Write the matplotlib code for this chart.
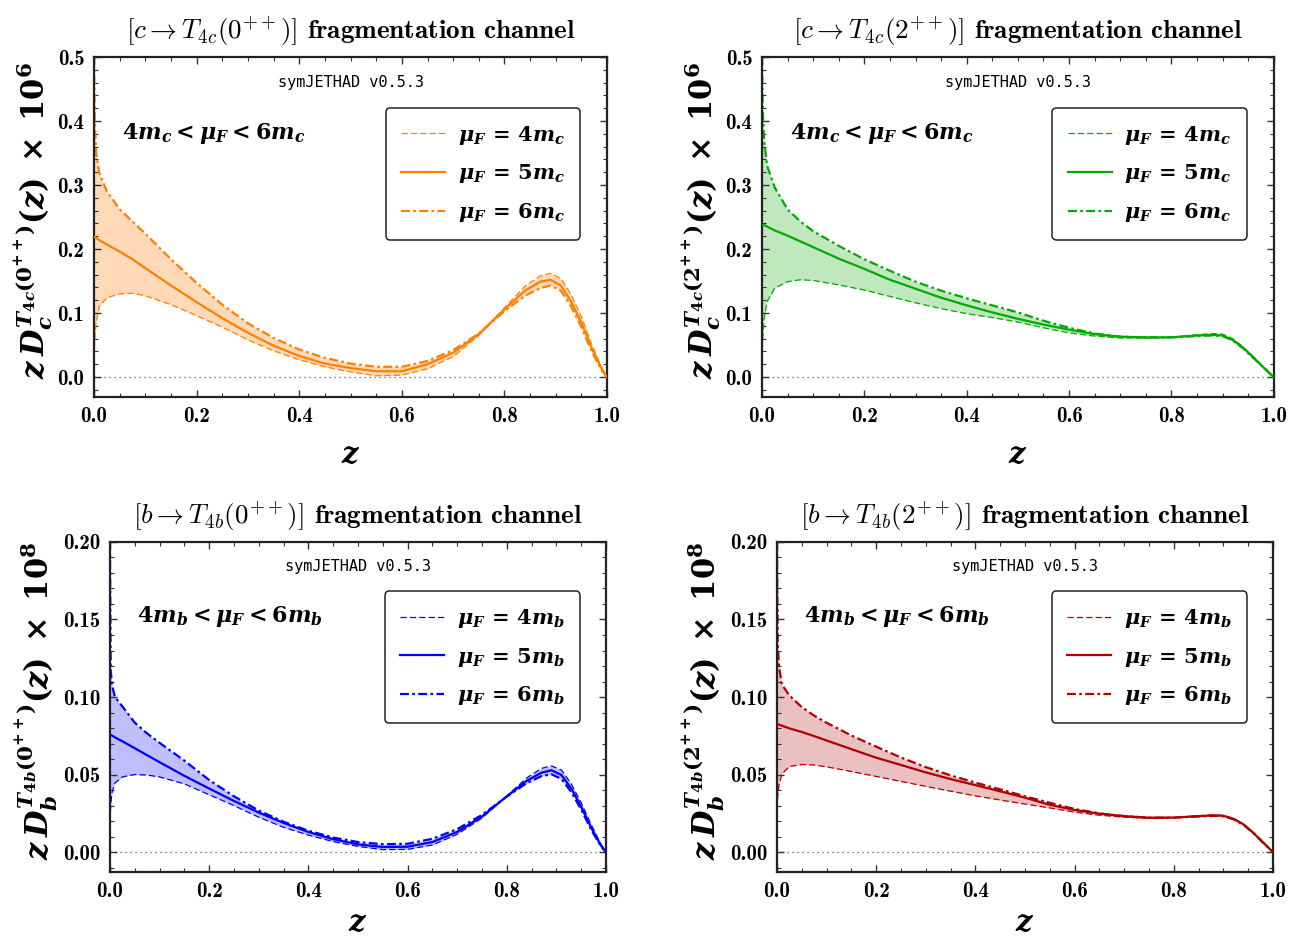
import matplotlib
matplotlib.use("Agg")
import matplotlib.pyplot as plt
from matplotlib.ticker import MultipleLocator, FormatStrFormatter

plt.rcParams["mathtext.fontset"] = "cm"
plt.rcParams["mathtext.it"] = "DejaVu Serif:italic:bold"
plt.rcParams["mathtext.rm"] = "DejaVu Serif:bold"
plt.rcParams["mathtext.bf"] = "DejaVu Serif:bold"
plt.rcParams["axes.formatter.use_mathtext"] = False

# ---- data (z grids shared by the three scale curves) ----
z_peak = [0, 0.0015, 0.004, 0.01, 0.025, 0.05, 0.075, 0.1, 0.15, 0.2, 0.25, 0.3, 0.35, 0.4,
          0.45, 0.5, 0.55, 0.6, 0.65, 0.7, 0.75, 0.8, 0.84, 0.87, 0.89, 0.91, 0.93, 0.95,
          0.97, 0.99, 1.0]
z_flat = [0, 0.0015, 0.004, 0.01, 0.025, 0.05, 0.075, 0.1, 0.15, 0.2, 0.25, 0.3, 0.35, 0.4,
          0.45, 0.5, 0.55, 0.6, 0.65, 0.7, 0.75, 0.8, 0.85, 0.88, 0.9, 0.92, 0.94, 0.96,
          0.98, 1.0]

# c -> T4c(0++), x 1e6
c0_mu4 = [0.03, 0.06, 0.085, 0.11, 0.124, 0.130, 0.131, 0.127, 0.113, 0.096, 0.078, 0.058,
          0.041, 0.027, 0.016, 0.008, 0.002, 0.003, 0.013, 0.032, 0.065, 0.108, 0.142, 0.158,
          0.162, 0.154, 0.129, 0.094, 0.051, 0.014, 0.0]
c0_mu5 = [0.219, 0.2185, 0.2175, 0.214, 0.207, 0.196, 0.184, 0.170, 0.143, 0.117, 0.092,
          0.069, 0.049, 0.033, 0.021, 0.014, 0.009, 0.009, 0.020, 0.038, 0.067, 0.106, 0.135,
          0.149, 0.152, 0.143, 0.118, 0.085, 0.045, 0.012, 0.0]
c0_mu6 = [0.50, 0.40, 0.35, 0.32, 0.29, 0.262, 0.243, 0.224, 0.184, 0.147, 0.113, 0.084,
          0.061, 0.043, 0.030, 0.021, 0.016, 0.016, 0.025, 0.042, 0.068, 0.103, 0.127, 0.139,
          0.143, 0.135, 0.110, 0.078, 0.040, 0.010, 0.0]

# c -> T4c(2++), x 1e6
c2_mu4 = [0.03, 0.06, 0.09, 0.118, 0.139, 0.149, 0.152, 0.151, 0.144, 0.136, 0.126, 0.116,
          0.107, 0.099, 0.093, 0.086, 0.077, 0.069, 0.064, 0.061, 0.061, 0.062, 0.066, 0.068,
          0.067, 0.060, 0.047, 0.032, 0.016, 0.0]
c2_mu5 = [0.238, 0.2378, 0.2373, 0.235, 0.229, 0.221, 0.212, 0.203, 0.185, 0.169, 0.152,
          0.138, 0.124, 0.112, 0.101, 0.091, 0.082, 0.074, 0.067, 0.063, 0.062, 0.062, 0.065,
          0.066, 0.065, 0.058, 0.046, 0.031, 0.015, 0.0]
c2_mu6 = [0.50, 0.42, 0.37, 0.33, 0.296, 0.262, 0.243, 0.228, 0.205, 0.184, 0.166, 0.149,
          0.135, 0.123, 0.112, 0.101, 0.088, 0.077, 0.068, 0.063, 0.062, 0.062, 0.064, 0.065,
          0.064, 0.057, 0.045, 0.030, 0.015, 0.0]

# b -> T4b(0++), x 1e8
b0_mu4 = [0.02, 0.030, 0.038, 0.0445, 0.0485, 0.0500, 0.0497, 0.0485, 0.0440, 0.0370,
          0.0300, 0.0225, 0.0160, 0.0110, 0.0068, 0.0037, 0.0016, 0.0018, 0.0046, 0.0115,
          0.0220, 0.0362, 0.0478, 0.0540, 0.0556, 0.0530, 0.0440, 0.0318, 0.0178, 0.0050, 0.0]
b0_mu5 = [0.0757, 0.0755, 0.0752, 0.0740, 0.0715, 0.0670, 0.0625, 0.0580, 0.0492, 0.0410,
          0.0330, 0.0255, 0.0188, 0.0130, 0.0083, 0.0050, 0.0033, 0.0035, 0.0065, 0.0130,
          0.0230, 0.0360, 0.0460, 0.0512, 0.0528, 0.0498, 0.0410, 0.0292, 0.0158, 0.0042, 0.0]
b0_mu6 = [0.20, 0.118, 0.108, 0.100, 0.094, 0.0835, 0.0765, 0.0705, 0.059, 0.0465, 0.0360,
          0.0268, 0.0196, 0.0138, 0.0094, 0.0065, 0.0051, 0.0054, 0.0086, 0.0148, 0.0240,
          0.0358, 0.0445, 0.0490, 0.0502, 0.0472, 0.0388, 0.0274, 0.0145, 0.0036, 0.0]

# b -> T4b(2++), x 1e8
b2_mu4 = [0.028, 0.036, 0.043, 0.0505, 0.0552, 0.0565, 0.0562, 0.0550, 0.0520, 0.0488,
          0.0456, 0.0424, 0.0393, 0.0363, 0.0336, 0.0310, 0.0285, 0.0258, 0.0238, 0.0225,
          0.0218, 0.0222, 0.0235, 0.0240, 0.0237, 0.0218, 0.0182, 0.0127, 0.0063, 0.0]
b2_mu5 = [0.0825, 0.0824, 0.0822, 0.0815, 0.0798, 0.0775, 0.0748, 0.0720, 0.0664, 0.0609,
          0.0562, 0.0514, 0.0471, 0.0432, 0.0392, 0.0351, 0.0305, 0.0272, 0.0248, 0.0232,
          0.0222, 0.0223, 0.0232, 0.0237, 0.0234, 0.0215, 0.0180, 0.0125, 0.0062, 0.0]
b2_mu6 = [0.20, 0.135, 0.120, 0.108, 0.101, 0.0935, 0.0880, 0.0834, 0.0752, 0.0680, 0.0610,
          0.0548, 0.0495, 0.0448, 0.0405, 0.0360, 0.0318, 0.0278, 0.0250, 0.0232, 0.0222,
          0.0222, 0.0230, 0.0234, 0.0231, 0.0212, 0.0178, 0.0124, 0.0061, 0.0]

panels = [
    dict(rect=[0.0723, 0.576, 0.3943, 0.363], z=z_peak, d=(c0_mu4, c0_mu5, c0_mu6),
         color="#ff7f00", fill="#ffd9b8", q="c", state="0", ylim=(-0.031, 0.5),
         major=0.1, minor=0.02, fmt="%.1f", power="6", ylab_x=-0.118, xlab_y=-0.17),
    dict(rect=[0.5857, 0.576, 0.3933, 0.363], z=z_flat, d=(c2_mu4, c2_mu5, c2_mu6),
         color="#00aa00", fill="#bfe8bf", q="c", state="2", ylim=(-0.031, 0.5),
         major=0.1, minor=0.02, fmt="%.1f", power="6", ylab_x=-0.118, xlab_y=-0.17),
    dict(rect=[0.0845, 0.0684, 0.3813, 0.3526], z=z_peak, d=(b0_mu4, b0_mu5, b0_mu6),
         color="#0000ff", fill="#bfbfff", q="b", state="0", ylim=(-0.0128, 0.2),
         major=0.05, minor=0.01, fmt="%.2f", power="8", ylab_x=-0.148, xlab_y=-0.155),
    dict(rect=[0.5972, 0.0684, 0.3813, 0.3526], z=z_flat, d=(b2_mu4, b2_mu5, b2_mu6),
         color="#b00000", fill="#ebc0c0", q="b", state="2", ylim=(-0.0128, 0.2),
         major=0.05, minor=0.01, fmt="%.2f", power="8", ylab_x=-0.148, xlab_y=-0.155),
]

fig = plt.figure(figsize=(13.01, 9.36), dpi=100)

for p in panels:
    ax = fig.add_axes(p["rect"])
    z = p["z"]
    d4, d5, d6 = p["d"]
    q = p["q"]
    lo = [min(a, b, c) for a, b, c in zip(d4, d5, d6)]
    hi = [max(a, b, c) for a, b, c in zip(d4, d5, d6)]
    ax.fill_between(z, lo, hi, color=p["fill"], lw=0, zorder=1)
    ax.axhline(0, color="#555555", lw=0.9, ls=(0, (1, 3)), zorder=1.5)
    l4, = ax.plot(z, d4, color=p["color"], lw=0.9, ls=(0, (5, 2.5)), zorder=2,
                  label=rf"$\mu_F\, =\, 4m_{q}$")
    l5, = ax.plot(z, d5, color=p["color"], lw=1.6, ls="-", zorder=3,
                  label=rf"$\mu_F\, =\, 5m_{q}$")
    l6, = ax.plot(z, d6, color=p["color"], lw=1.6, ls=(0, (4, 1.5, 1.2, 1.5)), zorder=2,
                  label=rf"$\mu_F\, =\, 6m_{q}$")

    ax.set_xlim(0, 1)
    ax.set_ylim(*p["ylim"])
    ax.xaxis.set_major_locator(MultipleLocator(0.2))
    ax.xaxis.set_minor_locator(MultipleLocator(0.05))
    ax.yaxis.set_major_locator(MultipleLocator(p["major"]))
    ax.yaxis.set_minor_locator(MultipleLocator(p["minor"]))
    ax.xaxis.set_major_formatter(FormatStrFormatter("%.1f"))
    ax.yaxis.set_major_formatter(FormatStrFormatter(p["fmt"]))
    ax.tick_params(which="both", direction="in", top=True, right=True, colors="#333333",
                   labelcolor="black")
    ax.tick_params(which="major", length=5, width=1.0, pad=7)
    ax.tick_params(which="minor", length=3, width=0.8)
    for lab in ax.get_xticklabels() + ax.get_yticklabels():
        lab.set_fontfamily("cmb10")
        lab.set_fontsize(15)
    for s in ax.spines.values():
        s.set_linewidth(1.6)
        s.set_color("#222222")

    n = "4" + q
    ax.set_title(rf"$[{q} \to T_{{{n}}}({p['state']}^{{++}})]$ fragmentation channel",
                 fontfamily="cmb10", fontsize=19.5, pad=13)
    ax.set_xlabel(r"$z$", fontsize=21, math_fontfamily="custom")
    ax.xaxis.set_label_coords(0.5, p["xlab_y"])
    ax.xaxis.label.set_va("center")
    ax.set_ylabel(rf"$z\,D_{q}^{{T_{{{n}}}({p['state']}^{{++}})}}(z)\;\times\;10^{p['power']}$",
                  fontsize=22, math_fontfamily="custom")
    ax.yaxis.set_label_coords(p["ylab_x"], 0.52)
    ax.yaxis.label.set_va("center")

    ax.text(0.5, 0.925, "symJETHAD v0.5.3", transform=ax.transAxes, ha="center",
            va="center", fontfamily="DejaVu Sans Mono", fontsize=11)
    ax.text(0.055, 0.775, rf"$4m_{q} < \mu_F < 6m_{q}$", transform=ax.transAxes,
            ha="left", va="center", fontsize=16, math_fontfamily="custom")

    leg = ax.legend(handles=[l4, l5, l6], loc="upper right", bbox_to_anchor=(0.948, 0.85),
                    fontsize=15, frameon=True, fancybox=True, framealpha=1,
                    edgecolor="#222222", handlelength=2.1, handletextpad=0.6,
                    borderpad=0.75, labelspacing=0.75, borderaxespad=0)
    leg.get_frame().set_linewidth(1.1)
    for t in leg.get_texts():
        t.set_math_fontfamily("custom")

fig.savefig("out.png", dpi=100)
